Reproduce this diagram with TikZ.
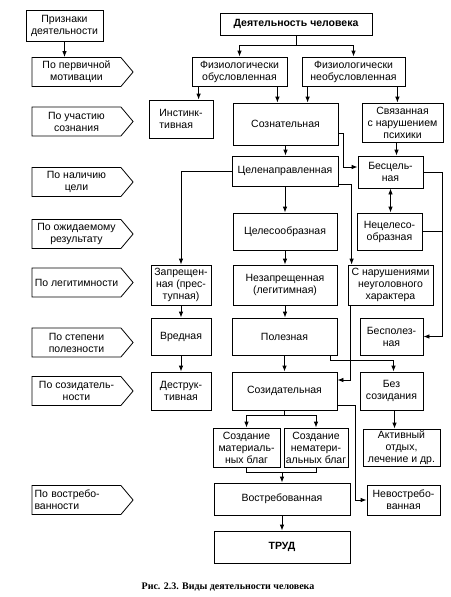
\documentclass[tikz,border=0pt]{standalone}
\usepackage{fontspec}
\setmainfont{Liberation Sans}
\newfontfamily\captfont{Liberation Serif}
\usetikzlibrary{arrows.meta,shapes.symbols}
\tikzset{
  box/.style={draw, line width=0.8pt, align=center, inner sep=1pt, font=\fontsize{10.5}{12}\selectfont},
  sign/.style={draw, line width=0.8pt, signal, signal to=east, signal pointer angle=100, align=center, inner sep=1pt,
    minimum width=101pt, minimum height=29pt, font=\fontsize{10.5}{12}\selectfont},
  link/.style={line width=0.8pt, ->},
}
\begin{document}
\begin{tikzpicture}[x=1pt, y=-1pt, >={Latex[length=6pt,width=4.5pt]}]
\useasboundingbox (0,0) rectangle (450,597);

% Features column
\node[box, minimum width=77pt, minimum height=31pt] (pr) at (64.5,25.5) {Признаки\\деятельности};
\node[sign] (p1) at (76.5,72) {По первичной\\мотивации};
\node[sign] (p2) at (76.5,121.5) {По участию\\сознания};
\node[sign] (p3) at (76.5,182) {По наличию\\цели};
\node[sign] (p4) at (76.5,234) {По ожидаемому\\результату};
\node[sign] (p5) at (76.5,282.5) {По легитимности};
\node[sign] (p6) at (76.5,342.5) {По степени\\полезности};
\node[sign] (p7) at (76.5,391) {По созидатель-\\ности};
\node[sign, align=left, text width=84pt] (p8) at (76.5,500) {По востребо-\\ванности};
\draw[link] (pr.south) -- (pr.south |- p1.north);

% Kinds of activity
\node[box, minimum width=152pt, minimum height=22pt, font=\fontsize{10.5}{12}\bfseries] (act) at (296,24) {Деятельность человека};
\node[box, minimum width=95pt, minimum height=29pt] (fo) at (239.5,71.5) {Физиологически\\обусловленная};
\node[box, minimum width=103pt, minimum height=29pt] (fn) at (353.5,71.5) {Физиологически\\необусловленная};
\node[box, minimum width=64pt, minimum height=38pt, align=left] (ins) at (181,119) {Инстинк-\\тивная};
\node[box, minimum width=105pt, minimum height=42pt] (soz) at (285.5,124) {Сознательная};
\node[box, minimum width=81pt, minimum height=39pt] (psy) at (402.5,122.5) {Связанная\\с нарушением\\психики};
\node[box, minimum width=106pt, minimum height=30pt] (cel) at (285,171) {Целенаправленная};
\node[box, minimum width=65pt, minimum height=32pt] (bes) at (390.5,172) {Бесцель-\\ная};
\node[box, minimum width=104pt, minimum height=37pt] (cso) at (285,231.5) {Целесообразная};
\node[box, minimum width=65pt, minimum height=37pt] (nec) at (389.5,231.5) {Нецелесо-\\образная};
\node[box, minimum width=60pt, minimum height=40pt] (zap) at (181,285) {Запрещен-\\ная (прес-\\тупная)};
\node[box, minimum width=104pt, minimum height=40pt] (nez) at (285,285) {Незапрещенная\\(легитимная)};
\node[box, minimum width=85pt, minimum height=40pt] (nar) at (390.5,285) {С нарушениями\\неуголовного\\характера};
\node[box, minimum width=60pt, minimum height=37pt] (vre) at (181,336.5) {Вредная};
\node[box, minimum width=105pt, minimum height=37pt] (pol) at (284.5,336.5) {Полезная};
\node[box, minimum width=63pt, minimum height=37pt] (bpl) at (391.5,336.5) {Бесполез-\\ная};
\node[box, minimum width=60pt, minimum height=38pt] (des) at (181,391) {Деструк-\\тивная};
\node[box, minimum width=105pt, minimum height=38pt] (szd) at (284.5,391) {Созидательная};
\node[box, minimum width=63pt, minimum height=38pt] (bez) at (391.5,391) {Без\\созидания};
\node[box, minimum width=67pt, minimum height=39pt] (mat) at (246.5,447.5) {Создание\\материаль-\\ных благ};
\node[box, minimum width=64pt, minimum height=39pt] (nem) at (316,447.5) {Создание\\нематери-\\альных благ};
\node[box, minimum width=77pt, minimum height=37pt] (akt) at (401.5,447.5) {Активный\\отдых,\\лечение и др.};
\node[box, minimum width=136pt, minimum height=32pt] (vos) at (282,499) {Востребованная};
\node[box, minimum width=73pt, minimum height=30pt] (nev) at (403.5,500) {Невостребо-\\ванная};
\node[box, minimum width=136pt, minimum height=32pt, font=\fontsize{10.5}{12}\bfseries] (trud) at (282,547) {ТРУД};

% Connectors
\draw[link] (act.south) -- ++(0,10) -| (fo.north);
\draw[link] (act.south) -- ++(0,10) -| (fn.north);
\draw[link] ([xshift=7pt]fo.south west) -- ([xshift=7pt]fo.south west |- ins.north);
\draw[link] ([xshift=-10pt]fo.south east) -- ([xshift=-10pt]fo.south east |- soz.north);
\draw[link] ([xshift=6pt]fn.south west) -- ([xshift=6pt]fn.south west |- soz.north);
\draw[link] ([xshift=-8pt]fn.south east) -- ([xshift=-8pt]fn.south east |- psy.north);
\draw[link] (soz.south) -- (soz.south |- cel.north);
\draw[link] ([yshift=-9pt]soz.east) -- ++(5,0) |- ([yshift=5pt]bes.west);
\draw[link] ([xshift=-6pt]psy.south) -- ([xshift=-6pt]psy.south |- bes.north);
\draw[line width=0.8pt, <->] (bes.south) -- (bes.south |- nec.north);
\coordinate (rb) at (442,172);
\draw[link] (bes.east) -- (rb) |- (bpl.east);
\draw[line width=0.8pt] (nec.east) -- (nec.east -| rb);
\draw[link] (cel.west) -| (zap.north);
\draw[link] (cel.south) -- (cel.south |- cso.north);
\draw[link] ([yshift=2pt]cel.south east) -| ([xshift=4pt]nar.north west);
\draw[link] (cso.south) -- (cso.south |- nez.north);
\draw[link] (zap.south) -- (vre.north);
\draw[link] (vre.south) -- (des.north);
\draw[link] (nez.south) -- (nez.south |- pol.north);
\draw[link] (pol.south) -- (pol.south |- szd.north);
\draw[link] ([xshift=-7pt]pol.south east) -- ++(0,5) -| ([xshift=2pt]bez.north);
\draw[link] ([xshift=3pt]nar.south west) |- ([yshift=11pt]szd.east);
\draw[link] ([yshift=-14pt]szd.east) -- ++(18,0) |- (nev.west);
\draw[link] ([xshift=3pt]bez.south) -- ([xshift=3pt]bez.south |- akt.north);
\draw[link] (szd.south) -- ++(0,5) -| (mat.north);
\draw[link] (szd.south) -- ++(0,5) -| (nem.north);
\draw[line width=0.8pt] (mat.south) -- ++(0,5) coordinate (jm) -| (nem.south);
\draw[link] (jm -| vos.north) -- (vos.north);
\draw[link] (vos.south) -- (trud.north);

% Caption
\node[font=\captfont\fontsize{10}{12}\bfseries] (cap) at (228,587) {Рис. 2.3. Виды деятельности человека};
\end{tikzpicture}
\end{document}
